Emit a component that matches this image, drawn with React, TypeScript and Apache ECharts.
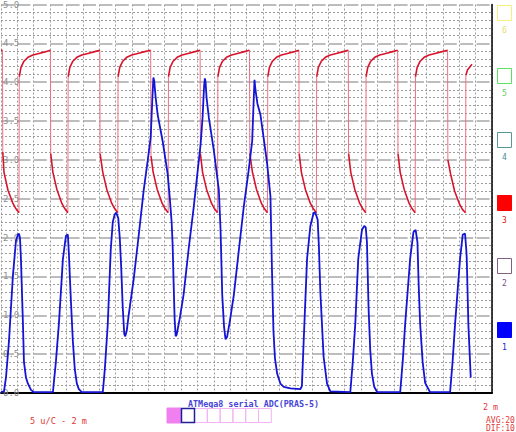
import React, { useEffect, useRef } from "react";
import * as echarts from "echarts";

// Channel 3 (red) samples: [sample index, volts]
const redSignal: [number, number][] = [
  [0, 4.41], [1.5, 4.41], [1.8, 3.1], [3, 2.84], [7, 2.61], [12, 2.44], [15, 2.37], [18, 2.32],
  [18.3, 4.07], [20, 4.19], [23, 4.27], [27, 4.32], [32, 4.35], [38, 4.37], [44, 4.39], [49.5, 4.41],
  [49.8, 3.08], [52, 2.84], [56, 2.62], [61, 2.44], [64, 2.37], [67, 2.32],
  [67.3, 4.07], [69, 4.19], [72, 4.27], [76, 4.32], [81, 4.35], [87, 4.37], [93, 4.39], [99, 4.41],
  [99.3, 3.08], [102, 2.84], [106, 2.62], [111, 2.44], [114, 2.37], [117, 2.32],
  [117.3, 4.07], [119, 4.19], [122, 4.27], [126, 4.32], [131, 4.35], [137, 4.37], [143, 4.39], [150, 4.41],
  [150.3, 3.05], [152.5, 2.84], [156.5, 2.62], [161.5, 2.44], [164.5, 2.37], [167.5, 2.32],
  [167.8, 4.07], [169.5, 4.19], [172.5, 4.27], [176.5, 4.32], [181.5, 4.35], [187.5, 4.37], [193.5, 4.39], [199.5, 4.41],
  [199.8, 3.08], [202, 2.84], [206, 2.62], [211, 2.44], [214, 2.37], [217, 2.32],
  [217.3, 4.07], [219, 4.19], [222, 4.27], [226, 4.32], [231, 4.35], [237, 4.37], [243, 4.39], [249, 4.41],
  [249.3, 3.08], [252, 2.84], [256, 2.62], [261, 2.44], [264, 2.37], [267, 2.32],
  [267.3, 4.07], [269, 4.19], [272, 4.27], [276, 4.32], [281, 4.35], [287, 4.37], [293, 4.39], [298.5, 4.41],
  [298.8, 3.08], [301, 2.84], [305, 2.62], [310, 2.44], [313, 2.37], [316, 2.32],
  [316.3, 4.07], [318, 4.19], [321, 4.27], [325, 4.32], [330, 4.35], [336, 4.37], [342, 4.39], [348, 4.41],
  [348.3, 3.08], [350.5, 2.84], [354.5, 2.62], [359.5, 2.44], [362.5, 2.37], [365.5, 2.32],
  [365.8, 4.07], [367.5, 4.19], [370.5, 4.27], [374.5, 4.32], [379.5, 4.35], [385.5, 4.37], [391.5, 4.39], [397.5, 4.41],
  [397.8, 3.08], [400, 2.84], [404, 2.62], [409, 2.44], [412, 2.37], [415, 2.32],
  [415.3, 4.07], [417, 4.19], [420, 4.27], [424, 4.32], [429, 4.35], [435, 4.37], [441, 4.39], [447.5, 4.41],
  [447.8, 3.0], [450.5, 2.82], [454.5, 2.6], [459.5, 2.43], [462.5, 2.36], [465.5, 2.32],
  [465.8, 4.09], [467.5, 4.16], [470, 4.2], [472, 4.23],
];

// Channel 1 (blue) samples: [sample index, volts]
const blueSignal: [number, number][] = [
  [0, 0.01], [3, 0.02], [5, 0.2], [8, 0.67], [10, 1.1], [12, 1.52], [15, 1.96], [17, 2.04], [18, 2.05],
  [19, 2.0], [20, 1.72], [22, 0.89], [23, 0.4], [25, 0.2], [27, 0.12], [30, 0.04], [33, 0.01],
  [52, 0.01], [55, 0.4], [58, 0.89], [60, 1.3], [62, 1.72], [65, 2.02], [67, 2.04], [68, 1.8],
  [70, 1.2], [72, 0.67], [74, 0.3], [76, 0.12], [78, 0.05], [81, 0.01],
  [102, 0.01], [104, 0.3], [107, 0.89], [110, 1.85], [112, 2.2], [114, 2.3], [115.5, 2.32],
  [117.5, 2.25], [119, 2.0], [120.5, 1.6], [122, 1.1], [123.5, 0.76], [124.5, 0.73], [126, 0.8],
  [128, 1.01], [133, 1.47], [138, 2.03], [143, 2.61], [147, 2.99], [150, 3.29], [151.7, 3.8],
  [152.7, 4.06], [153.5, 4.02], [155, 3.8], [157, 3.58], [162, 3.24], [167, 2.82], [169, 2.53],
  [171, 2.2], [172, 1.9], [173, 1.4], [174, 0.95], [175, 0.73], [176, 0.75], [179, 0.95],
  [183, 1.27], [188, 1.85], [193, 2.38], [197, 2.85], [200, 3.2], [202, 3.55], [203.5, 3.95],
  [204.3, 4.05], [205, 4.0], [206, 3.8], [208.3, 3.54], [213.3, 3.12], [218.3, 2.61], [220, 2.1],
  [221.7, 1.26], [223.5, 0.85], [225, 0.69], [226.5, 0.72], [229, 0.9], [233.3, 1.26], [238, 1.8],
  [243.3, 2.4], [248, 2.85], [251.7, 3.24], [253, 3.7], [254, 4.03], [255, 3.9], [257, 3.72],
  [260, 3.58], [263, 3.3], [266.7, 2.95], [270, 2.53], [271.5, 1.6], [273, 0.8], [274.5, 0.45],
  [276.7, 0.25], [280, 0.12], [283.3, 0.08], [290, 0.06], [300, 0.05], [301.5, 0.09], [303.3, 0.67],
  [306.7, 1.73], [310, 2.15], [313.3, 2.32], [315, 2.32], [317.3, 2.23], [318.5, 1.9], [320, 1.3],
  [323.3, 0.46], [326.7, 0.12], [330, 0.02],
  [350, 0.01], [352.5, 0.4], [355, 0.89], [358, 1.73], [361.7, 2.1], [364, 2.15], [365.5, 2.13],
  [366.7, 1.94], [368.3, 1.1], [370, 0.55], [371.7, 0.25], [374, 0.08], [377, 0.01],
  [400, 0.01], [402.5, 0.4], [405, 0.89], [410, 1.73], [413.3, 2.07], [415.5, 2.1], [417.3, 1.94],
  [418.5, 1.4], [420, 0.89], [422.5, 0.4], [425, 0.13], [430, 0.01],
  [450, 0.01], [452.5, 0.4], [455, 0.89], [460, 1.73], [462.7, 2.04], [465, 2.05], [466.2, 1.85],
  [466.7, 1.73], [468.3, 0.89], [470.7, 0.2],
];

const yTickLabels = ["0.0", "0.5", "1.0", "1.5", "2.0", "2.5", "3.0", "3.5", "4.0", "4.5", "5.0"];
const channelNames = ["6", "5", "4", "3", "2", "1"];
const scaleText = "5 u/C - 2 m";
const titleText = "ATMega8 serial ADC(PRAS-5)";
const timeText = "2 m";
const avgText = "AVG:20";
const difText = "DIF:10";

const X_MAX = 492;
const X_DIV = 16.4;

function splitJumps(points: [number, number][]) {
  const curve: any[] = [];
  const edges: any[] = [];
  points.forEach((p, i) => {
    if (i > 0) {
      const prev = points[i - 1];
      if (p[0] - prev[0] <= 0.6 && Math.abs(p[1] - prev[1]) > 0.5) {
        curve.push([prev[0], "-"]);
        edges.push(prev, p, [p[0], "-"]);
      }
    }
    curve.push(p);
  });
  return { curve, edges };
}

export default function App() {
  const ref = useRef<HTMLDivElement>(null);

  useEffect(() => {
    if (!ref.current) return;
    const chart = echarts.init(ref.current, undefined, { renderer: "svg" });
    const red = splitJumps(redSignal);
    const mono = "DejaVu Sans Mono";

    const chanStyles = [
      { stroke: "#f4f080", fill: "#fff", text: "#e8e070" },
      { stroke: "#60e060", fill: "#fff", text: "#60d060" },
      { stroke: "#5a9898", fill: "#fff", text: "#4a8a9a" },
      { stroke: "#ff0000", fill: "#ff0000", text: "#e02020" },
      { stroke: "#806080", fill: "#fff", text: "#7a4a8a" },
      { stroke: "#0000ff", fill: "#0000ff", text: "#2020d0" },
    ];
    const chanTops = [5, 68, 132, 195, 258, 322];

    const graphics: any[] = [];
    channelNames.forEach((name, i) => {
      const s = chanStyles[i];
      graphics.push({
        type: "rect",
        shape: { x: 497.5, y: chanTops[i] + 0.5, width: 14, height: 15 },
        style: { fill: s.fill, stroke: s.stroke, lineWidth: 1 },
      });
      graphics.push({
        type: "text",
        x: 504.5,
        y: chanTops[i] + 25,
        style: { text: name, fill: s.text, font: `8px ${mono}`, align: "center", verticalAlign: "middle" },
      });
    });

    graphics.push({
      type: "text", x: 30, y: 421,
      style: { text: scaleText, fill: "#e03838", font: `8.6px ${mono}`, verticalAlign: "middle" },
    });
    graphics.push({
      type: "text", x: 188, y: 404,
      style: { text: titleText, fill: "#4646d6", font: `bold 8.4px ${mono}`, verticalAlign: "middle" },
    });
    graphics.push({
      type: "text", x: 483, y: 407,
      style: { text: timeText, fill: "#e03838", font: `8.4px ${mono}`, verticalAlign: "middle" },
    });
    graphics.push({
      type: "text", x: 486, y: 420.5,
      style: { text: avgText, fill: "#e03838", font: `8px ${mono}`, verticalAlign: "middle" },
    });
    graphics.push({
      type: "text", x: 486, y: 428.5,
      style: { text: difText, fill: "#e03838", font: `8px ${mono}`, verticalAlign: "middle" },
    });

    // bottom selector boxes
    graphics.push({
      type: "rect", shape: { x: 167, y: 408, width: 14, height: 15 },
      style: { fill: "#f080f0", stroke: "#f080f0", lineWidth: 1 },
    });
    for (let k = 0; k < 6; k++) {
      graphics.push({
        type: "rect", shape: { x: 194.5 + k * 12.8, y: 408.5, width: 12.8, height: 14 },
        style: { fill: "none", stroke: "#f2b4f2", lineWidth: 1 },
      });
    }
    graphics.push({
      type: "rect", shape: { x: 181.5, y: 408.5, width: 13, height: 14 },
      style: { fill: "#fff", stroke: "#202098", lineWidth: 1.5 },
    });

    chart.setOption({
      animation: false,
      backgroundColor: "#ffffff",
      grid: { left: 0, right: 516 - X_MAX, top: -2, bottom: 39, containLabel: false },
      xAxis: {
        type: "value",
        min: 0,
        max: X_MAX,
        interval: X_DIV,
        axisLine: { show: true, onZero: false, lineStyle: { color: "#000", width: 2 } },
        axisTick: { show: false },
        axisLabel: { show: false },
        splitLine: { show: true, lineStyle: { color: "#9c9c9c", width: 1, type: [2, 2] } },
      },
      yAxis: [
        {
          type: "value",
          min: 0,
          max: 5,
          interval: 0.5,
          axisLine: { show: false },
          axisTick: { show: false },
          axisLabel: {
            show: true,
            inside: true,
            margin: 2,
            color: "#909090",
            fontSize: 9,
            fontFamily: mono,
            formatter: (v: number) => yTickLabels[Math.round(v / 0.5)] ?? "",
          },
          splitLine: { show: true, lineStyle: { color: "#a8a8a8", width: 1.5, type: [13, 3.4] } },
          minorTick: { show: false, splitNumber: 5 },
          minorSplitLine: { show: true, lineStyle: { color: "#9c9c9c", width: 1, type: [2, 2] } },
        },
        {
          type: "value",
          position: "right",
          min: 0,
          max: 5,
          axisLine: { show: true, lineStyle: { color: "#000", width: 1.5 } },
          axisTick: { show: false },
          axisLabel: { show: false },
          splitLine: { show: false },
        },
      ],
      series: [
        {
          name: "ch3-edges",
          type: "line",
          data: red.edges,
          showSymbol: false,
          symbol: "none",
          lineStyle: { color: "#ee7080", width: 1 },
          z: 3,
        },
        {
          name: "ch3",
          type: "line",
          data: red.curve,
          showSymbol: false,
          symbol: "none",
          lineStyle: { color: "#d8142c", width: 1.6 },
          z: 4,
        },
        {
          name: "ch1",
          type: "line",
          data: blueSignal,
          showSymbol: false,
          symbol: "none",
          lineStyle: { color: "#1414d4", width: 1.8 },
          z: 5,
        },
      ],
      graphic: graphics,
    });

    return () => chart.dispose();
  }, []);

  return (
    <div
      ref={ref}
      style={{ position: "fixed", left: 0, top: 0, width: 516, height: 432, background: "#fff" }}
    />
  );
}
